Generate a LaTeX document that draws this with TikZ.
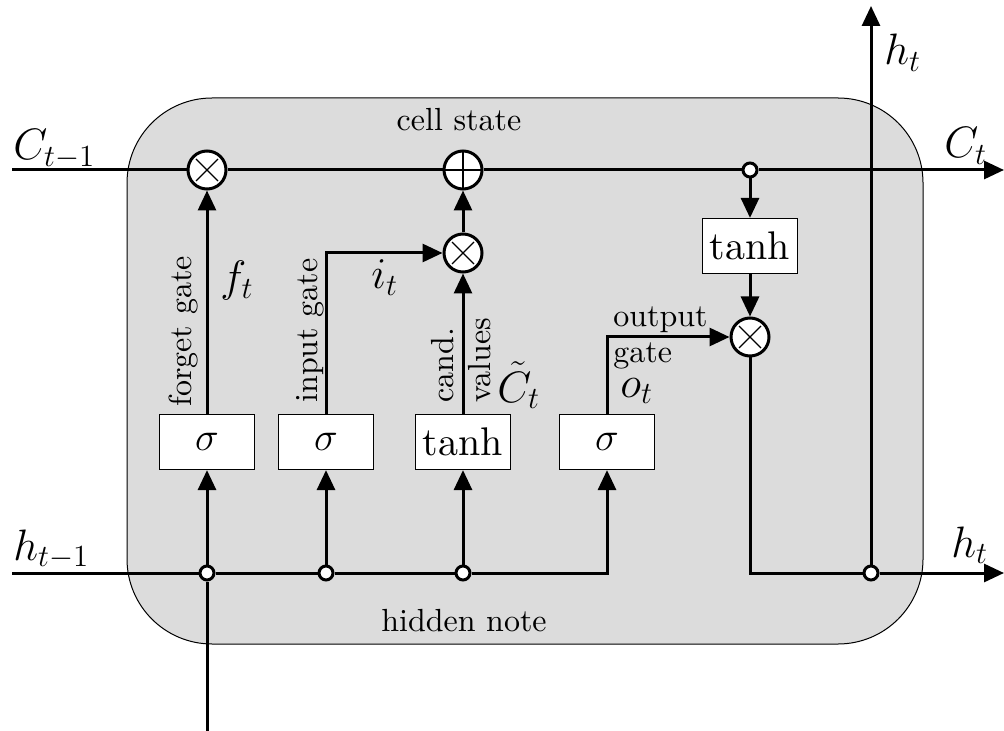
\RequirePackage{fix-cm}
\documentclass[tikz,border=0pt]{standalone}
\usepackage{fontspec}
\setmainfont{lmroman10-regular}[Extension=.otf]
\usetikzlibrary{arrows.meta}
\definecolor{cellbg}{RGB}{220,220,220}
\begin{document}
\begin{tikzpicture}[x=0.5pt,y=-0.5pt,
  line/.style={line width=1.5pt},
  arr/.style={line width=1.5pt,-{Triangle[length=10pt,width=9pt]}},
  opnode/.style={circle,draw,line width=1.5pt,fill=white,minimum size=19pt,inner sep=0pt},
  timesop/.style={opnode,path picture={
     \draw[line width=0.6pt] ([shift={(-5.5pt,-5.5pt)}]path picture bounding box.center) -- ([shift={(5.5pt,5.5pt)}]path picture bounding box.center);
     \draw[line width=0.6pt] ([shift={(-5.5pt,5.5pt)}]path picture bounding box.center) -- ([shift={(5.5pt,-5.5pt)}]path picture bounding box.center);}},
  plusop/.style={opnode,path picture={
     \draw[line width=0.6pt] ([shift={(-9pt,0pt)}]path picture bounding box.center) -- ([shift={(9pt,0pt)}]path picture bounding box.center);
     \draw[line width=0.6pt] ([shift={(0pt,-9pt)}]path picture bounding box.center) -- ([shift={(0pt,9pt)}]path picture bounding box.center);}},
  junc/.style={circle,draw,line width=1.5pt,fill=white,minimum size=7pt,inner sep=0pt},
  gatebox/.style={rectangle,draw,line width=0.6pt,fill=white,minimum width=47.5pt,minimum height=27.5pt,inner sep=0pt,font=\fontsize{20}{24}\selectfont},
  mathlab/.style={inner sep=0pt,font=\fontsize{22}{26}\selectfont},
  txtlab/.style={inner sep=0pt,font=\fontsize{16}{19}\selectfont},
]
\useasboundingbox (0,0) rectangle (1004,731);
% cell background
\draw[fill=cellbg,line width=0.5pt,rounded corners=42.5pt] (127,98) rectangle (923,644);

% nodes
\node[timesop] (fx) at (207,170) {};
\node[plusop] (px) at (463,170) {};
\node[junc] (cj) at (750,170) {};
\node[gatebox] (t2) at (750,246) {tanh};
\node[timesop] (ox) at (750,337) {};
\node[timesop] (ix) at (463,253) {};
\node[gatebox] (s1) at (207,442) {$\sigma$};
\node[gatebox] (s2) at (326,442) {$\sigma$};
\node[gatebox] (t1) at (463,442) {tanh};
\node[gatebox] (s3) at (607,442) {$\sigma$};
\node[junc] (j1) at (207,573) {};
\node[junc] (j2) at (326,573) {};
\node[junc] (j3) at (463,573) {};
\node[junc] (hj) at (871,573) {};
\coordinate (cin) at (12,170);
\coordinate (cout) at (1004,170);
\coordinate (hin) at (12,573);
\coordinate (hout) at (1004,573);
\coordinate (htop) at (871,6);
\coordinate (xin) at (207,731);

% connectors
\draw[arr] (cin) -- (fx) -- (px) -- (cj) -- (cout);
\draw[arr] (hin) -- (j1) -- (j2) -- (j3) -| (s3);
\draw[line] (xin) -- (j1);
\draw[arr] (j1) -- (s1);
\draw[arr] (j2) -- (s2);
\draw[arr] (j3) -- (t1);
\draw[arr] (s1) -- (fx);
\draw[arr] (s2) |- (ix);
\draw[arr] (t1) -- (ix);
\draw[arr] (ix) -- (px);
\draw[arr] (cj) -- (t2);
\draw[arr] (t2) -- (ox);
\draw[arr] (s3) |- (ox);
\draw[line] (ox) |- (hj);
\draw[arr] (hj) -- (hout);
\draw[arr] (hj) -- (htop);

% labels
\node[mathlab,anchor=base west] (lcin) at (13,160) {$C_{t-1}$};
\node[mathlab,anchor=base west] (lcout) at (944,158) {$C_t$};
\node[mathlab,anchor=base west] (lhin) at (13,560) {$h_{t-1}$};
\node[mathlab,anchor=base west] (lhout) at (951,557) {$h_t$};
\node[mathlab,anchor=base west] (lhtop) at (884,65) {$h_t$};
\node[mathlab,anchor=base west] (lf) at (220,292) {$f_t$};
\node[mathlab,anchor=base west] (li) at (371,289) {$i_t$};
\node[mathlab,anchor=base west] (lc) at (497,402) {$\tilde{C}_t$};
\node[mathlab,anchor=base west] (lo) at (620,397) {$o_t$};
\node[txtlab,anchor=base] (lcell) at (459,131) {cell state};
\node[txtlab,anchor=base] (lhid) at (464,631) {hidden note};
\node[txtlab,anchor=base west,rotate=90] (lfg) at (191,407) {forget gate};
\node[txtlab,anchor=base west,rotate=90] (lig) at (317,403) {input gate};
\node[txtlab,anchor=base west,rotate=90] (lcand) at (453,403) {cand.};
\node[txtlab,anchor=base west,rotate=90] (lval) at (490,403) {values};
\node[txtlab,anchor=base west] (lout) at (613,327) {output};
\node[txtlab,anchor=base west] (lgate) at (613,363) {gate};
\end{tikzpicture}
\end{document}
